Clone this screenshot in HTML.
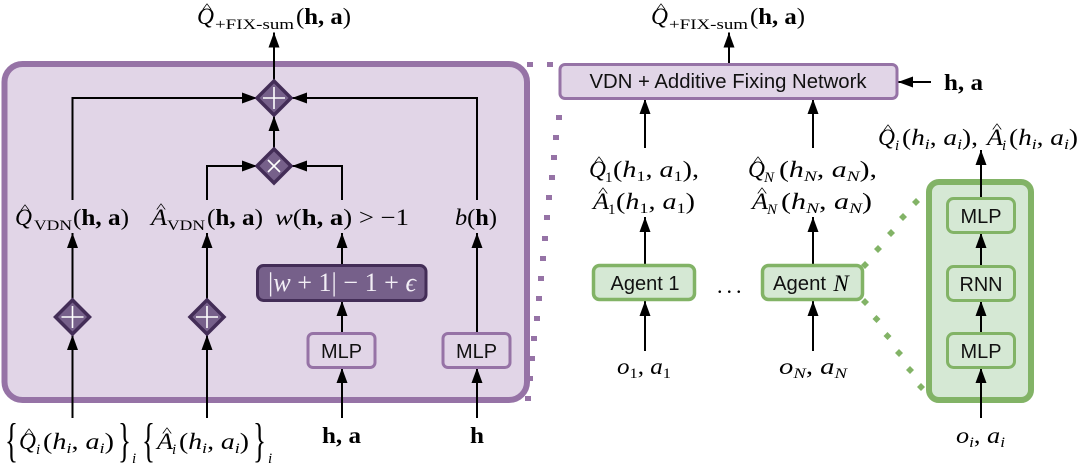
<!DOCTYPE html>
<html><head><meta charset="utf-8"><style>
html,body{margin:0;padding:0;background:#fff;width:1080px;height:467px;overflow:hidden}
svg{display:block}
text{font-family:"Liberation Serif",serif;font-size:23px;fill:#000}
.i{font-style:italic}.b{font-weight:700}.s{font-size:15px}.x{font-size:15px;font-style:italic}
.h{font-size:13px}
.f{font-family:"Liberation Sans",sans-serif;font-size:20px;text-anchor:middle;fill:#111}
.l{stroke:#000;stroke-width:2;fill:none}
.w{stroke:#fff;stroke-width:1.6;fill:none}
</style></head><body>
<svg width="1080" height="467" viewBox="0 0 1080 467" xmlns="http://www.w3.org/2000/svg">
<defs><marker id="a" markerUnits="userSpaceOnUse" markerWidth="15" markerHeight="11" refX="15" refY="5.5" orient="auto"><path d="M0 0L15 5.5L0 11Z" fill="#000"/></marker></defs>

<!-- dotted connectors -->
<g fill="#9673a6">
<rect x="527" y="62" width="6" height="5"/><rect x="547" y="62" width="6" height="5"/>
<rect x="556" y="115" width="6" height="5"/><rect x="553" y="135" width="6" height="5"/><rect x="551" y="155" width="6" height="5"/><rect x="549" y="175" width="6" height="5"/><rect x="546" y="195" width="6" height="5"/><rect x="544" y="215" width="6" height="5"/><rect x="542" y="236" width="6" height="5"/><rect x="540" y="256" width="6" height="5"/><rect x="538" y="276" width="6" height="5"/><rect x="536" y="296" width="6" height="5"/><rect x="534" y="316" width="6" height="5"/><rect x="531" y="336" width="6" height="5"/><rect x="529" y="356" width="6" height="5"/><rect x="527" y="376" width="6" height="5"/><rect x="525" y="396" width="6" height="5"/>
</g>
<g fill="#82b366">
<path d="M916 198l4 4-4 4-4-4zM903 213l4 4-4 4-4-4zM891 229l4 4-4 4-4-4zM878 245l4 4-4 4-4-4zM865 261l4 4-4 4-4-4z"/>
<path d="M865 298l4 4-4 4-4-4zM876.500 315l4 4-4 4-4-4zM887.500 332l4 4-4 4-4-4zM899 349l4 4-4 4-4-4zM910 366l4 4-4 4-4-4zM921 383l4 4-4 4-4-4z"/>
</g>

<!-- left panel -->
<rect x="4.500" y="64" width="522.500" height="336" rx="18" fill="#e1d5e7" stroke="#9673a6" stroke-width="6"/>

<!-- left connectors -->
<path class="l" d="M274 80V32.500" marker-end="url(#a)"/>
<path class="l" d="M72.500 200V98H257" marker-end="url(#a)"/>
<path class="l" d="M477 200V98H292" marker-end="url(#a)"/>
<path class="l" d="M274 148V116" marker-end="url(#a)"/>
<path class="l" d="M207 200V166H257" marker-end="url(#a)"/>
<path class="l" d="M342 200V166H292" marker-end="url(#a)"/>
<path class="l" d="M72.500 300V233" marker-end="url(#a)"/>
<path class="l" d="M207 300V233" marker-end="url(#a)"/>
<path class="l" d="M342 264V233" marker-end="url(#a)"/>
<path class="l" d="M477 332V233" marker-end="url(#a)"/>
<path class="l" d="M342 332V301" marker-end="url(#a)"/>
<path class="l" d="M72.500 418V335" marker-end="url(#a)"/>
<path class="l" d="M207 418V335" marker-end="url(#a)"/>
<path class="l" d="M342 418V368" marker-end="url(#a)"/>
<path class="l" d="M477 418V368" marker-end="url(#a)"/>

<!-- diamonds -->
<g fill="#76608a" stroke="#432d57" stroke-width="3.500">
<path d="M274 81L291 98L274 115L257 98Z"/>
<path d="M274 149L291 166L274 183L257 166Z"/>
<path d="M72.500 300L89.500 317L72.500 334L55.500 317Z"/>
<path d="M207 300L224 317L207 334L190 317Z"/>
</g>
<path class="w" d="M263 98H285M274 87V109"/>
<path class="w" d="M268 160L280 172M280 160L268 172" stroke-width="1.200"/>
<path class="w" d="M61.500 317H83.500M72.500 306V328"/>
<path class="w" d="M196 317H218M207 306V328"/>

<rect x="257.500" y="265.500" width="168.500" height="35" rx="6" fill="#76608a" stroke="#432d57" stroke-width="3"/>
<text x="268" y="291" textLength="148" lengthAdjust="spacingAndGlyphs" style="fill:#f2eef5;font-size:26px"><tspan>|</tspan><tspan class="i">w</tspan> + 1| − 1 + <tspan class="i">ϵ</tspan></text>

<g fill="#e1d5e7" stroke="#9673a6" stroke-width="3">
<rect x="308" y="333.500" width="67" height="34" rx="5"/>
<rect x="443" y="333.500" width="67" height="34" rx="5"/>
</g>
<text class="f" x="341.500" y="358" textLength="41" lengthAdjust="spacingAndGlyphs">MLP</text>
<text class="f" x="476.500" y="358" textLength="41" lengthAdjust="spacingAndGlyphs">MLP</text>

<!-- top left label -->
<text class="i" x="197" y="24" textLength="17" lengthAdjust="spacingAndGlyphs">Q</text><text class="h" x="202" y="12" textLength="10" lengthAdjust="spacingAndGlyphs">^</text>
<text class="s" x="215" y="29" textLength="79" lengthAdjust="spacingAndGlyphs">+FIX-sum</text>
<text x="296" y="24" textLength="55" lengthAdjust="spacingAndGlyphs">(<tspan class="b">h, a</tspan>)</text>

<!-- left row labels -->
<text class="i" x="15" y="225" textLength="17" lengthAdjust="spacingAndGlyphs">Q</text><text class="h" x="20" y="213" textLength="10" lengthAdjust="spacingAndGlyphs">^</text>
<text class="s" x="34" y="230" textLength="38" lengthAdjust="spacingAndGlyphs">VDN</text>
<text x="73" y="225" textLength="56" lengthAdjust="spacingAndGlyphs">(<tspan class="b">h, a</tspan>)</text>

<text class="i" x="151" y="225" textLength="16" lengthAdjust="spacingAndGlyphs">A</text><text class="h" x="156" y="212" textLength="10" lengthAdjust="spacingAndGlyphs">^</text>
<text class="s" x="167" y="230" textLength="38" lengthAdjust="spacingAndGlyphs">VDN</text>
<text x="207" y="225" textLength="56" lengthAdjust="spacingAndGlyphs">(<tspan class="b">h, a</tspan>)</text>

<text x="275" y="225" textLength="134" lengthAdjust="spacingAndGlyphs"><tspan class="i">w</tspan>(<tspan class="b">h, a</tspan>) &gt; −1</text>
<text x="455" y="225" textLength="42" lengthAdjust="spacingAndGlyphs"><tspan class="i">b</tspan>(<tspan class="b">h</tspan>)</text>

<!-- bottom left labels -->
<text x="5" y="456" style="font-size:48px" textLength="13" lengthAdjust="spacingAndGlyphs">{</text>
<text class="i" x="19" y="449" textLength="17" lengthAdjust="spacingAndGlyphs">Q</text><text class="h" x="24" y="437" textLength="10" lengthAdjust="spacingAndGlyphs">^</text>
<text class="x" x="36" y="454">i</text>
<text x="43" y="449" class="i" textLength="71" lengthAdjust="spacingAndGlyphs"><tspan style="font-style:normal">(</tspan>h<tspan class="x" dy="4">i</tspan><tspan dy="-4" style="font-style:normal">, </tspan>a<tspan class="x" dy="4">i</tspan><tspan dy="-4" style="font-style:normal">)</tspan></text>
<text x="118" y="456" style="font-size:48px" textLength="13" lengthAdjust="spacingAndGlyphs">}</text>
<text class="x" x="132" y="463">i</text>
<text x="142" y="456" style="font-size:48px" textLength="13" lengthAdjust="spacingAndGlyphs">{</text>
<text class="i" x="157" y="449" textLength="16" lengthAdjust="spacingAndGlyphs">A</text><text class="h" x="162" y="436" textLength="10" lengthAdjust="spacingAndGlyphs">^</text>
<text class="x" x="172" y="454">i</text>
<text x="179" y="449" class="i" textLength="70" lengthAdjust="spacingAndGlyphs"><tspan style="font-style:normal">(</tspan>h<tspan class="x" dy="4">i</tspan><tspan dy="-4" style="font-style:normal">, </tspan>a<tspan class="x" dy="4">i</tspan><tspan dy="-4" style="font-style:normal">)</tspan></text>
<text x="253" y="456" style="font-size:48px" textLength="13" lengthAdjust="spacingAndGlyphs">}</text>
<text class="x" x="268" y="463">i</text>
<text class="b" x="322" y="443" textLength="39" lengthAdjust="spacingAndGlyphs">h, a</text>
<text class="b" x="470" y="443" textLength="14" lengthAdjust="spacingAndGlyphs">h</text>

<!-- right side connectors -->
<path class="l" d="M729 63V32.500" marker-end="url(#a)"/>
<path class="l" d="M931 82H898" marker-end="url(#a)"/>
<path class="l" d="M645 148V99" marker-end="url(#a)"/>
<path class="l" d="M813 148V99" marker-end="url(#a)"/>
<path class="l" d="M645 264V217" marker-end="url(#a)"/>
<path class="l" d="M813 264V217" marker-end="url(#a)"/>
<path class="l" d="M645 351V301" marker-end="url(#a)"/>
<path class="l" d="M813 351V301" marker-end="url(#a)"/>

<rect x="560" y="64.500" width="337" height="34" rx="5" fill="#e1d5e7" stroke="#9673a6" stroke-width="3"/>
<text class="f" x="728" y="88" textLength="277" lengthAdjust="spacingAndGlyphs">VDN + Additive Fixing Network</text>

<text class="i" x="651" y="24" textLength="17" lengthAdjust="spacingAndGlyphs">Q</text><text class="h" x="656" y="12" textLength="10" lengthAdjust="spacingAndGlyphs">^</text>
<text class="s" x="669" y="29" textLength="79" lengthAdjust="spacingAndGlyphs">+FIX-sum</text>
<text x="750" y="24" textLength="55" lengthAdjust="spacingAndGlyphs">(<tspan class="b">h, a</tspan>)</text>
<text class="b" x="944" y="90" textLength="39" lengthAdjust="spacingAndGlyphs">h, a</text>

<!-- agent labels -->
<text class="i" x="589" y="177" textLength="17" lengthAdjust="spacingAndGlyphs">Q</text><text class="h" x="594" y="165" textLength="10" lengthAdjust="spacingAndGlyphs">^</text>
<text x="605" y="182" class="s">1</text>
<text x="613" y="177" class="i" textLength="86" lengthAdjust="spacingAndGlyphs"><tspan style="font-style:normal">(</tspan>h<tspan class="s" style="font-style:normal" dy="4">1</tspan><tspan dy="-4" style="font-style:normal">, </tspan>a<tspan class="s" style="font-style:normal" dy="4">1</tspan><tspan dy="-4" style="font-style:normal">),</tspan></text>
<text class="i" x="593" y="209" textLength="16" lengthAdjust="spacingAndGlyphs">A</text><text class="h" x="598" y="196" textLength="10" lengthAdjust="spacingAndGlyphs">^</text>
<text x="608" y="214" class="s">1</text>
<text x="616" y="209" class="i" textLength="79" lengthAdjust="spacingAndGlyphs"><tspan style="font-style:normal">(</tspan>h<tspan class="s" style="font-style:normal" dy="4">1</tspan><tspan dy="-4" style="font-style:normal">, </tspan>a<tspan class="s" style="font-style:normal" dy="4">1</tspan><tspan dy="-4" style="font-style:normal">)</tspan></text>

<text class="i" x="748" y="177" textLength="17" lengthAdjust="spacingAndGlyphs">Q</text><text class="h" x="753" y="165" textLength="10" lengthAdjust="spacingAndGlyphs">^</text>
<text x="764" y="182" class="x">N</text>
<text x="779" y="177" class="i" textLength="98" lengthAdjust="spacingAndGlyphs"><tspan style="font-style:normal">(</tspan>h<tspan class="s" dy="4">N</tspan><tspan dy="-4" style="font-style:normal">, </tspan>a<tspan class="s" dy="4">N</tspan><tspan dy="-4" style="font-style:normal">),</tspan></text>
<text class="i" x="752" y="209" textLength="16" lengthAdjust="spacingAndGlyphs">A</text><text class="h" x="757" y="196" textLength="10" lengthAdjust="spacingAndGlyphs">^</text>
<text x="767" y="214" class="x">N</text>
<text x="781" y="209" class="i" textLength="91" lengthAdjust="spacingAndGlyphs"><tspan style="font-style:normal">(</tspan>h<tspan class="s" dy="4">N</tspan><tspan dy="-4" style="font-style:normal">, </tspan>a<tspan class="s" dy="4">N</tspan><tspan dy="-4" style="font-style:normal">)</tspan></text>

<g fill="#d5e8d4" stroke="#82b366" stroke-width="3.500">
<rect x="593.500" y="265.500" width="101" height="34" rx="6"/>
<rect x="762.500" y="265.500" width="100" height="34" rx="6"/>
</g>
<text class="f" x="645" y="290" textLength="69" lengthAdjust="spacingAndGlyphs">Agent 1</text>
<text class="f" x="773" y="290" style="text-anchor:start" textLength="53" lengthAdjust="spacingAndGlyphs">Agent</text>
<text x="841" y="291" class="i" style="text-anchor:middle;font-size:23px">N</text>
<text x="717" y="293" style="letter-spacing:4px;font-size:22px">...</text>

<text x="617" y="374" class="i" textLength="54" lengthAdjust="spacingAndGlyphs">o<tspan class="s" style="font-style:normal" dy="4">1</tspan><tspan dy="-4" style="font-style:normal">, </tspan>a<tspan class="s" style="font-style:normal" dy="4">1</tspan></text>
<text x="779" y="374" class="i" textLength="68" lengthAdjust="spacingAndGlyphs">o<tspan class="s" dy="4">N</tspan><tspan dy="-4" style="font-style:normal">, </tspan>a<tspan class="s" dy="4">N</tspan></text>

<!-- green panel -->
<rect x="929" y="182" width="102" height="218" rx="10" fill="#d5e8d4" stroke="#82b366" stroke-width="6"/>
<path class="l" d="M981 197V150" marker-end="url(#a)"/>
<path class="l" d="M981 265V233" marker-end="url(#a)"/>
<path class="l" d="M981 332V301" marker-end="url(#a)"/>
<path class="l" d="M981 418V368" marker-end="url(#a)"/>
<g fill="#d5e8d4" stroke="#82b366" stroke-width="3">
<rect x="947.500" y="198.500" width="67" height="34" rx="6"/>
<rect x="947.500" y="266.500" width="67" height="34" rx="6"/>
<rect x="947.500" y="333.500" width="67" height="34" rx="6"/>
</g>
<text class="f" x="981" y="223" textLength="41" lengthAdjust="spacingAndGlyphs">MLP</text>
<text class="f" x="981" y="291" textLength="43" lengthAdjust="spacingAndGlyphs">RNN</text>
<text class="f" x="981" y="358" textLength="41" lengthAdjust="spacingAndGlyphs">MLP</text>

<text class="i" x="878" y="145" textLength="17" lengthAdjust="spacingAndGlyphs">Q</text><text class="h" x="883" y="133" textLength="10" lengthAdjust="spacingAndGlyphs">^</text>
<text class="x" x="895" y="150">i</text>
<text x="902" y="145" class="i" textLength="76" lengthAdjust="spacingAndGlyphs"><tspan style="font-style:normal">(</tspan>h<tspan class="x" dy="4">i</tspan><tspan dy="-4" style="font-style:normal">, </tspan>a<tspan class="x" dy="4">i</tspan><tspan dy="-4" style="font-style:normal">),</tspan></text>
<text class="i" x="987" y="145" textLength="16" lengthAdjust="spacingAndGlyphs">A</text><text class="h" x="992" y="132" textLength="10" lengthAdjust="spacingAndGlyphs">^</text>
<text class="x" x="1002" y="150">i</text>
<text x="1009" y="145" class="i" textLength="69" lengthAdjust="spacingAndGlyphs"><tspan style="font-style:normal">(</tspan>h<tspan class="x" dy="4">i</tspan><tspan dy="-4" style="font-style:normal">, </tspan>a<tspan class="x" dy="4">i</tspan><tspan dy="-4" style="font-style:normal">)</tspan></text>
<text x="956" y="443" class="i" textLength="49" lengthAdjust="spacingAndGlyphs">o<tspan class="x" dy="4">i</tspan><tspan dy="-4" style="font-style:normal">, </tspan>a<tspan class="x" dy="4">i</tspan></text>
</svg>
</body></html>
